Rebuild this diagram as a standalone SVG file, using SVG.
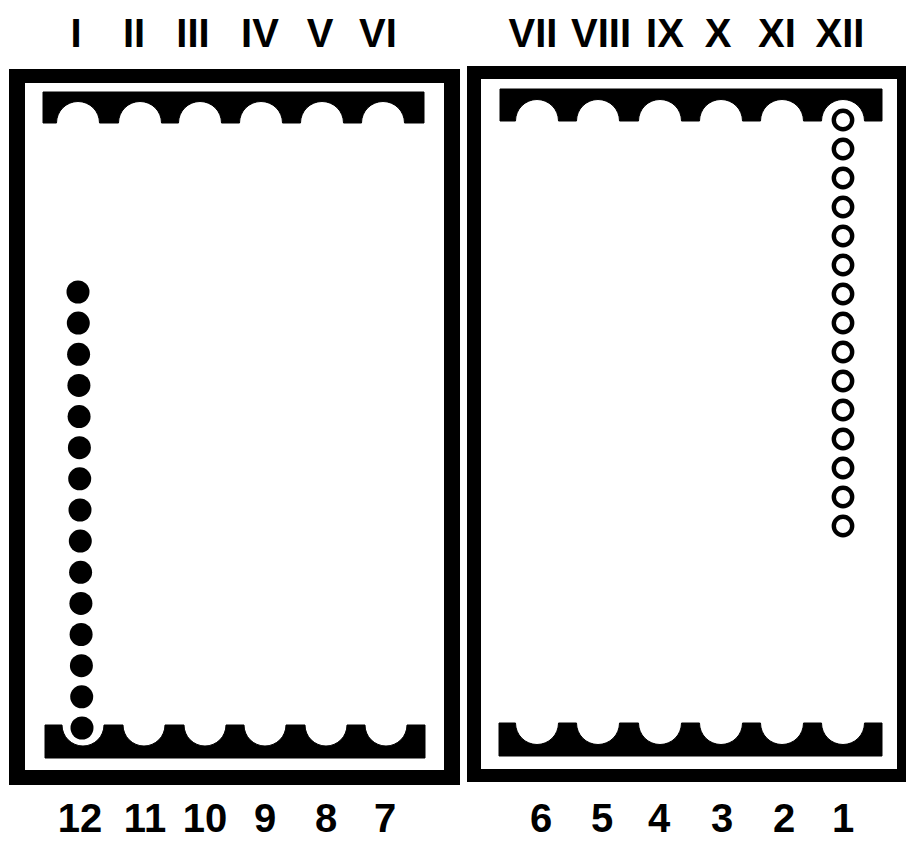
<svg xmlns="http://www.w3.org/2000/svg" xmlns:xlink="http://www.w3.org/1999/xlink" width="907" height="841" viewBox="0 0 907 841">
<style>
.frame{fill:#000;fill-rule:evenodd}
.bar{fill:#000;stroke:#000;stroke-width:1;stroke-linejoin:round}
.lbl{font-family:"Liberation Sans",Arial,sans-serif;font-weight:bold;font-size:40px;fill:#000;text-anchor:middle}
.blk{fill:#000}
.wht{fill:#fff;stroke:#000;stroke-width:4.4}
</style>
<defs>
<circle id="bs" r="11.5" class="blk"/>
<circle id="ws" r="9.2" class="wht"/>
</defs>
<rect width="907" height="841" fill="#fff"/>

<g id="board-left">
<path class="frame" d="M9,69 H460 V785 H9 Z M25,83 V770 H444 V83 Z"/>
<path id="bar-left-top" class="bar" d="M43,92 H424 V123 H404.5 A21.5,21.5 0 0 0 361.5,123 H343.5 A21.5,21.5 0 0 0 300.5,123 H282.5 A21.5,21.5 0 0 0 239.5,123 H221.5 A21.5,21.5 0 0 0 178.5,123 H161.5 A21.5,21.5 0 0 0 118.5,123 H99.5 A21.5,21.5 0 0 0 56.5,123 H43 Z"/>
<path id="bar-left-bottom" class="bar" d="M45,725 H62 A21,21 0 0 0 104,725 H123 A21,21 0 0 0 165,725 H184 A21,21 0 0 0 226,725 H244 A21,21 0 0 0 286,725 H305 A21,21 0 0 0 347,725 H365 A21,21 0 0 0 407,725 H425 V758 H45 Z"/>
</g>

<g id="board-right">
<path class="frame" d="M467,66 H906 V782 H467 Z M481,79 V769 H897 V79 Z"/>
<path id="bar-right-top" class="bar" d="M500,89 H882 V121 H864.5 A21.5,21.5 0 0 0 821.5,121 H803.5 A21.5,21.5 0 0 0 760.5,121 H742.5 A21.5,21.5 0 0 0 699.5,121 H681.5 A21.5,21.5 0 0 0 638.5,121 H619.5 A21.5,21.5 0 0 0 576.5,121 H558.5 A21.5,21.5 0 0 0 515.5,121 H500 Z"/>
<path id="bar-right-bottom" class="bar" d="M499,723 H515.5 A21.5,21.5 0 0 0 558.5,723 H576.5 A21.5,21.5 0 0 0 619.5,723 H638.5 A21.5,21.5 0 0 0 681.5,723 H699.5 A21.5,21.5 0 0 0 742.5,723 H760.5 A21.5,21.5 0 0 0 803.5,723 H821.5 A21.5,21.5 0 0 0 864.5,723 H882 V756 H499 Z"/>
</g>

<g id="stones-black">
<use xlink:href="#bs" x="78" y="292"/>
<use xlink:href="#bs" x="78.3" y="323.1"/>
<use xlink:href="#bs" x="78.6" y="354.3"/>
<use xlink:href="#bs" x="78.9" y="385.4"/>
<use xlink:href="#bs" x="79.1" y="416.6"/>
<use xlink:href="#bs" x="79.4" y="447.7"/>
<use xlink:href="#bs" x="79.7" y="478.8"/>
<use xlink:href="#bs" x="80" y="510"/>
<use xlink:href="#bs" x="80.3" y="541.1"/>
<use xlink:href="#bs" x="80.6" y="572.3"/>
<use xlink:href="#bs" x="80.9" y="603.4"/>
<use xlink:href="#bs" x="81.1" y="634.5"/>
<use xlink:href="#bs" x="81.4" y="665.7"/>
<use xlink:href="#bs" x="81.7" y="696.8"/>
<use xlink:href="#bs" x="82" y="728"/>
</g>

<g id="stones-white">
<use xlink:href="#ws" x="843" y="120"/>
<use xlink:href="#ws" x="843" y="149"/>
<use xlink:href="#ws" x="843" y="178"/>
<use xlink:href="#ws" x="843" y="207"/>
<use xlink:href="#ws" x="843" y="236"/>
<use xlink:href="#ws" x="843" y="265"/>
<use xlink:href="#ws" x="843" y="294"/>
<use xlink:href="#ws" x="843" y="323"/>
<use xlink:href="#ws" x="843" y="352"/>
<use xlink:href="#ws" x="843" y="381"/>
<use xlink:href="#ws" x="843" y="410"/>
<use xlink:href="#ws" x="843" y="439"/>
<use xlink:href="#ws" x="843" y="468"/>
<use xlink:href="#ws" x="843" y="497"/>
<use xlink:href="#ws" x="843" y="526"/>
</g>

<g id="labels-top">
<text class="lbl" x="76" y="47">I</text>
<text class="lbl" x="134" y="47">II</text>
<text class="lbl" x="193" y="47">III</text>
<text class="lbl" x="260" y="47">IV</text>
<text class="lbl" x="320" y="47">V</text>
<text class="lbl" x="378" y="47">VI</text>
<text class="lbl" x="533" y="47">VII</text>
<text class="lbl" x="601" y="47">VIII</text>
<text class="lbl" x="665" y="47">IX</text>
<text class="lbl" x="718" y="47">X</text>
<text class="lbl" x="777" y="47">XI</text>
<text class="lbl" x="840" y="47">XII</text>
</g>

<g id="labels-bottom">
<text class="lbl" x="80" y="832">12</text>
<text class="lbl" x="145" y="832">11</text>
<text class="lbl" x="205" y="832">10</text>
<text class="lbl" x="265" y="832">9</text>
<text class="lbl" x="326" y="832">8</text>
<text class="lbl" x="385" y="832">7</text>
<text class="lbl" x="541" y="832">6</text>
<text class="lbl" x="602" y="832">5</text>
<text class="lbl" x="659" y="832">4</text>
<text class="lbl" x="722" y="832">3</text>
<text class="lbl" x="784" y="832">2</text>
<text class="lbl" x="843" y="832">1</text>
</g>
</svg>
